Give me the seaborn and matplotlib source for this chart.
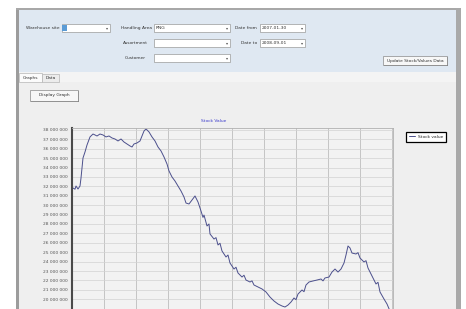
import matplotlib
matplotlib.use("Agg")
import pandas as pd
import matplotlib.pyplot as plt
from matplotlib.patches import Rectangle
from matplotlib.ticker import MultipleLocator, FixedLocator, FuncFormatter
import seaborn as sns

# stock value series (day index, value in millions)
days = [1, 3, 4, 6, 8, 9, 11, 13, 15, 18, 21, 23, 25, 28, 31, 34, 37, 40, 43, 46, 49,
        52, 55, 58, 60, 62, 65, 68, 70, 72, 74, 77, 80, 83, 86, 89, 92, 95, 97, 100, 103,
        106, 109, 112, 114, 117, 120, 123, 126, 129, 131, 132, 135, 137, 138, 142, 144, 146, 148, 150, 154,
        156, 158, 162, 164, 166, 170, 172, 174, 178, 180, 182, 186, 190, 194, 198, 202, 206, 210, 213,
        216, 219, 222, 224, 226, 230, 232, 234, 237, 241, 245, 249, 251, 253, 257, 260, 263, 266, 269,
        272, 274, 276, 278, 280, 284, 286, 288, 292, 294, 296, 300, 304, 306, 308, 312, 315, 318, 320]
stock_value = [31.83, 31.70, 32.04, 31.72, 32.04, 32.89, 35.02, 35.66, 36.40, 37.26, 37.57, 37.47, 37.36, 37.57, 37.47, 37.26, 37.36, 37.15, 37.04, 36.83, 37.04,
               36.72, 36.51, 36.30, 36.19, 36.51, 36.62, 36.83, 37.36, 37.89, 38.11, 37.79, 37.26, 36.83, 36.19, 35.77, 35.13, 34.38, 33.64, 33.00, 32.57,
               32.04, 31.51, 30.87, 30.23, 30.13, 30.55, 30.98, 30.34, 29.38, 28.70, 28.95, 27.79, 28.00, 26.94, 26.40, 26.55, 25.77, 25.95, 25.13, 24.49,
               24.70, 23.85, 23.21, 23.40, 22.79, 22.36, 22.55, 22.04, 21.83, 21.95, 21.51, 21.30, 21.09, 20.77, 20.23, 19.81, 19.49, 19.28, 19.17,
               19.38, 19.70, 20.13, 19.95, 20.55, 20.98, 20.80, 21.51, 21.83, 21.94, 22.04, 22.15, 21.95, 22.26, 22.36, 22.89, 23.21, 22.89, 23.21,
               23.85, 24.70, 25.66, 25.45, 24.91, 24.81, 24.95, 24.38, 23.96, 24.10, 23.32, 22.47, 21.62, 21.80, 20.77, 20.02, 19.49, 18.74, 18.21]

# y tick labels shown on the visible part of the chart (millions)
y_label_values = list(range(20, 39))

W, H = 466, 309
FS = 3.2

sns.set_style("whitegrid")
plt.rcParams['font.family'] = ['DejaVu Sans']

fig = plt.figure(figsize=(W / 100, H / 100), dpi=100)
fig.patch.set_facecolor("white")


def box(x, y, w, h, fc, ec="none", lw=0.5, z=-5):
    fig.add_artist(Rectangle((x / W, 1 - (y + h) / H), w / W, h / H,
                             transform=fig.transFigure, facecolor=fc,
                             edgecolor=ec, linewidth=lw, zorder=z))


def label(x, y, s, ha="left", color="#333333", size=FS):
    fig.text(x / W, 1 - y / H, s, fontsize=size, ha=ha, va="center", color=color)


def combo(x, y, w, text=""):
    box(x, y, w, 8, "white", ec="#9a9a9a", lw=0.5, z=-3)
    label(x + w - 3, y + 4, "\u25be", ha="center", color="#555555", size=3)
    if text:
        label(x + 2, y + 4, text)


def button(x, y, w, h, text):
    box(x + 1, y + 1, w, h, "#555555", z=-3)
    box(x, y, w, h, "#f7f7f7", ec="#8a8a8a", lw=0.5, z=-2)
    label(x + w / 2, y + h / 2, text, ha="center")


# window + panels
box(16, 8, 445, 301, "#efefef", z=-10)
box(18, 10, 438, 62, "#dfe8f2", z=-9)
box(18, 72, 438, 10, "#f4f4f4", z=-9)
box(16, 8, 2.5, 301, "#9c9c9c", z=-8)
box(16, 8, 445, 2, "#a8a8a8", z=-8)
box(456, 8, 5, 301, "#a9a9a9", z=-8)

# filter controls
label(60, 28, "Warehouse site", ha="right")
combo(62, 24, 48)
box(62, 25, 5, 6, "#5b9bd5", z=-2)
label(152, 28, "Handling Area", ha="right")
combo(154, 24, 76, "RNG")
label(257, 28, "Date from", ha="right")
combo(260, 24, 45, "2007-01-30")
label(148, 43, "Assortment", ha="right")
combo(154, 39, 76)
label(257, 43, "Date to", ha="right")
combo(260, 39, 45, "2008-09-01")
label(146, 58, "Customer", ha="right")
combo(154, 54, 76)
button(383, 56, 64, 9, "Update Stock/Values Data")

# tabs
box(19, 73, 23, 9, "#fbfbfb", ec="#b5b5b5", z=-7)
label(30.5, 78, "Graphs", ha="center")
box(42, 74, 17, 8, "#ececec", ec="#b5b5b5", z=-7)
label(50.5, 78, "Data", ha="center")

button(30, 90, 48, 11, "Display Graph")

# chart (the plot runs past the bottom of the screenshot)
df = pd.DataFrame({"day": days, "value": stock_value})
ax = fig.add_axes([72 / W, 1 - 400 / H, 321 / W, 272 / H])
ax.set_facecolor("#f2f2f2")
sns.lineplot(data=df, x="day", y="value", ax=ax, color="#4b4f8c",
             linewidth=0.7, label="Stock value")
ax.set_xlim(0, 321)
ax.set_ylim(9.28, 38.21)
ax.xaxis.set_major_locator(MultipleLocator(32))
ax.yaxis.set_major_locator(FixedLocator(y_label_values))
ax.yaxis.set_minor_locator(MultipleLocator(1))
ax.yaxis.set_major_formatter(FuncFormatter(lambda v, p: f"{v:.0f} 000 000"))
ax.set_xticklabels([])
ax.set_xlabel("")
ax.set_ylabel("")
ax.tick_params(axis="both", which="both", length=0, pad=3, labelsize=FS, labelcolor="#555555")
ax.grid(axis="y", which="both", color="#d2d2d2", linewidth=0.5)
ax.grid(axis="x", color="#bdbdbd", linewidth=0.6)
for side in ["top", "right", "bottom"]:
    ax.spines[side].set_color("#b0b0b0")
    ax.spines[side].set_linewidth(0.6)
ax.spines["left"].set_color("#4a4a4a")
ax.spines["left"].set_linewidth(1.5)
ax.set_title("Stock Value", fontsize=FS, color="#3a3acc", pad=4, x=0.44)

leg = ax.legend(loc="upper left", bbox_to_anchor=(1.034, 0.993), fontsize=FS,
                frameon=True, fancybox=False, shadow=False, handlelength=1.5,
                borderpad=0.6, handletextpad=0.5)
leg.get_frame().set_edgecolor("black")
leg.get_frame().set_linewidth(0.9)
leg.get_frame().set_facecolor("white")
leg.get_frame().set_alpha(1)

fig.savefig("out.png", dpi=100)
